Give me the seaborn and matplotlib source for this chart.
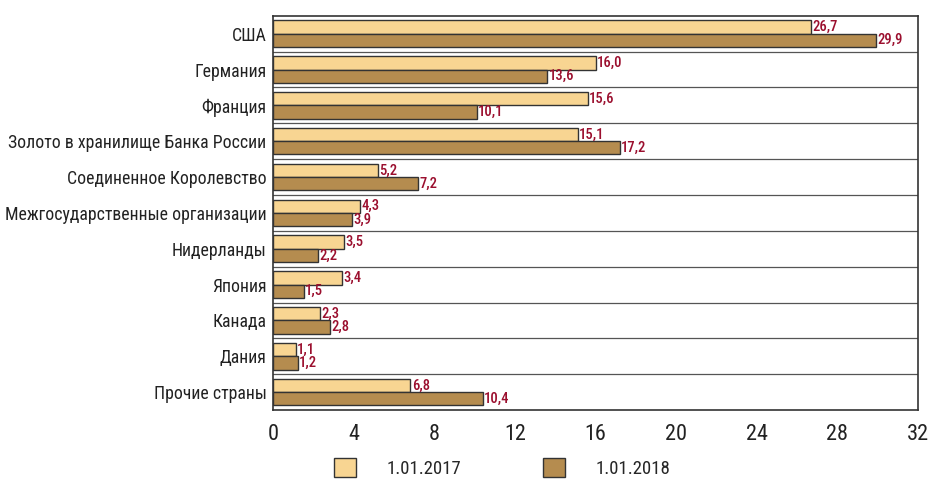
import matplotlib
matplotlib.use("Agg")
import matplotlib.pyplot as plt
import seaborn as sns
import pandas as pd

# данные
countries = ["США", "Германия", "Франция", "Золото в хранилище Банка России",
             "Соединенное Королевство", "Межгосударственные организации",
             "Нидерланды", "Япония", "Канада", "Дания", "Прочие страны"]
v2017 = [26.7, 16.0, 15.6, 15.1, 5.2, 4.3, 3.5, 3.4, 2.3, 1.1, 6.8]
v2018 = [29.9, 13.6, 10.1, 17.2, 7.2, 3.9, 2.2, 1.5, 2.8, 1.2, 10.4]
series = ["1.01.2017", "1.01.2018"]
xticks = [0, 4, 8, 12, 16, 20, 24, 28, 32]

df = pd.DataFrame({
    "страна": countries * 2,
    "значение": v2017 + v2018,
    "дата": [series[0]] * len(countries) + [series[1]] * len(countries),
})

sns.set_style("white")
plt.rcParams['font.family'] = ['Roboto Condensed', 'Liberation Sans Narrow', 'Roboto', 'DejaVu Sans']

fig, ax = plt.subplots(figsize=(9.3, 4.79), dpi=100)
fig.subplots_adjust(left=0.294, right=0.987, top=0.967, bottom=0.144)

sns.barplot(data=df, y="страна", x="значение", hue="дата", orient="h",
            palette=["#F8D592", "#B58C4F"], saturation=1, edgecolor="#333333",
            linewidth=1, width=0.74, ax=ax)

for cont in ax.containers:
    ax.bar_label(cont, labels=[f"{v:.1f}".replace(".", ",") for v in cont.datavalues],
                 color="#9B0F2E", fontsize=10.5, fontweight="medium", padding=1)

# разделители категорий
for i in range(len(countries) - 1):
    ax.axhline(i + 0.5, color="#555555", lw=0.9)

ax.set_xlim(0, 32)
ax.set_ylim(len(countries) - 0.5, -0.5)
ax.set_xticks(xticks)
ax.set_xticklabels([str(t) for t in xticks], fontsize=16)
ax.tick_params(axis="x", direction="out", length=7, width=1, color="#333333",
               pad=3, labelcolor="#222222")
ax.tick_params(axis="y", length=0, labelsize=12.8, pad=5, labelcolor="#222222")
ax.set_xlabel("")
ax.set_ylabel("")
for s in ax.spines.values():
    s.set_color("#333333")
    s.set_linewidth(1.2)

handles, labels = ax.get_legend_handles_labels()
ax.legend_.remove()
fig.legend(handles, labels, loc="lower center", bbox_to_anchor=(0.54, -0.033), ncol=2,
           frameon=False, fontsize=13.5, handlelength=1.17, handleheight=1.17,
           columnspacing=4.4, handletextpad=1.6)

fig.savefig("out.png", dpi=100)
